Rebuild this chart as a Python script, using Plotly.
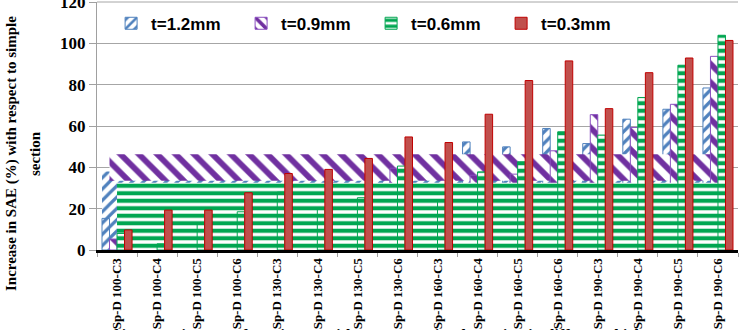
import plotly.graph_objects as go

categories = ["Sp-D 100-C3", "Sp-D 100-C4", "Sp-D 100-C5", "Sp-D 100-C6",
              "Sp-D 130-C3", "Sp-D 130-C4", "Sp-D 130-C5", "Sp-D 130-C6",
              "Sp-D 160-C3", "Sp-D 160-C4", "Sp-D 160-C5", "Sp-D 160-C6",
              "Sp-D 190-C3", "Sp-D 190-C4", "Sp-D 190-C5", "Sp-D 190-C6"]
series_names = ["t=1.2mm", "t=0.9mm", "t=0.6mm", "t=0.3mm"]
t12 = [15.3, 5, 11, 20, 25, 16, 30, 40, 30, 52.3, 49.9, 58.8, 51.5, 63.3, 68.1, 78.4]
t09 = [5.3, 3, 10, 17, 20, 15, 25, 39.6, 22, 36.2, 36.7, 48, 65.5, 59.3, 70.5, 93.7]
t06 = [8, 3, 12.9, 18.5, 28, 19.8, 25.3, 40.6, 24, 37.8, 42.7, 57.2, 55.6, 73.8, 89.4, 103.9]
t03 = [9.7, 19.3, 19.3, 27.7, 37, 39, 44.3, 54.7, 52, 65.7, 82, 91.5, 68.4, 85.8, 92.9, 101.4]
# large filled bands visible behind the bars (base, top)
band_t12 = (0, 38)
band_t09 = (33.5, 46.3)
band_t06 = (0, 32.5)
y_ticks = [0, 20, 40, 60, 80, 100, 120]

colors = ["#4F81BD", "#7030A0", "#00A651", "#C0504D"]
lines = ["#4F81BD", "#8A4FC0", "#00A651", "#C00000"]
shapes = ["/", "\\", "-", ""]
bw = 0.1875
offsets = [-2 * bw, -bw, 0, bw]
span = len(categories) - 1 + bw

pat_size = [8, 13, 7.5, 8]
pat_sol = [0.4, 0.45, 0.55, 0.3]

fig = go.Figure()

def pattern(i):
    return dict(shape=shapes[i], fgcolor=colors[i], bgcolor="white", fgopacity=1,
                size=pat_size[i], solidity=pat_sol[i], fillmode="overlay")

def add_band(i, band):
    fig.add_trace(go.Bar(
        x=[categories[0]], y=[band[1] - band[0]], base=[band[0]],
        offset=offsets[i], width=span, showlegend=False, hoverinfo="skip",
        marker=dict(color="white", line=dict(width=0), pattern=pattern(i))))

def add_series(i, vals):
    if shapes[i]:
        marker = dict(color="white", line=dict(color=lines[i], width=1), pattern=pattern(i))
    else:
        marker = dict(color=colors[i], line=dict(color=lines[i], width=1))
    fig.add_trace(go.Bar(x=categories, y=vals, name=series_names[i],
                         offset=offsets[i], width=bw, marker=marker))

add_band(0, band_t12)
add_series(0, t12)
add_band(1, band_t09)
add_series(1, t09)
add_band(2, band_t06)
add_series(2, t06)
add_series(3, t03)

serif = "Liberation Serif"
fig.update_layout(
    width=750, height=330,
    margin=dict(l=97, r=12, t=2, b=80, autoexpand=False),
    plot_bgcolor="white", paper_bgcolor="white",
    barmode="overlay",
    showlegend=True,
    legend=dict(orientation="h", x=0.022, y=0.985, xanchor="left", yanchor="top",
                font=dict(family="Liberation Sans", size=17, color="black", weight="bold"),
                bgcolor="rgba(0,0,0,0)", entrywidth=85, itemwidth=30),
    xaxis=dict(type="category", categoryorder="array", categoryarray=categories,
               range=[-0.5, len(categories) - 0.5], automargin=False,
               tickangle=-90, tickson="boundaries", ticks="outside", ticklen=4,
               tickcolor="#A0A0A0", showline=True, linecolor="black", linewidth=3,
               showgrid=False,
               tickfont=dict(family=serif, size=13, color="black", weight="bold")),
    yaxis=dict(range=[0, 120], tickvals=y_ticks, ticks="outside", ticklen=7,
               tickcolor="#A0A0A0", showline=True, linecolor="#A0A0A0", linewidth=1,
               showgrid=True, gridcolor="#A6A6A6", gridwidth=1, zeroline=False,
               ticklabeloverflow="allow", automargin=False,
               tickfont=dict(family=serif, size=17, color="black", weight="bold")),
    shapes=[dict(type="line", xref="paper", yref="paper", x0=0, x1=1, y0=1, y1=1,
                 line=dict(color="#A6A6A6", width=1), layer="below")],
)

fig.add_annotation(text="Increase in SAE (%) with respect to simple", textangle=-90,
                   xref="paper", yref="paper", x=-0.133, y=0.39, showarrow=False,
                   xanchor="center", yanchor="middle",
                   font=dict(family=serif, size=15, color="black", weight="bold"))
fig.add_annotation(text="section", textangle=-90,
                   xref="paper", yref="paper", x=-0.097, y=0.39, showarrow=False,
                   xanchor="center", yanchor="middle",
                   font=dict(family=serif, size=15, color="black", weight="bold"))
fig.add_annotation(text="Fig. 17. Percentage of increase in SAE of specimens with respect to simple section in different thickness",
                   xref="paper", yref="paper", x=-0.2, y=-0.347, showarrow=False,
                   xanchor="left", yanchor="middle",
                   font=dict(family=serif, size=16, color="black", weight="bold"))

fig.write_html("out.html")
